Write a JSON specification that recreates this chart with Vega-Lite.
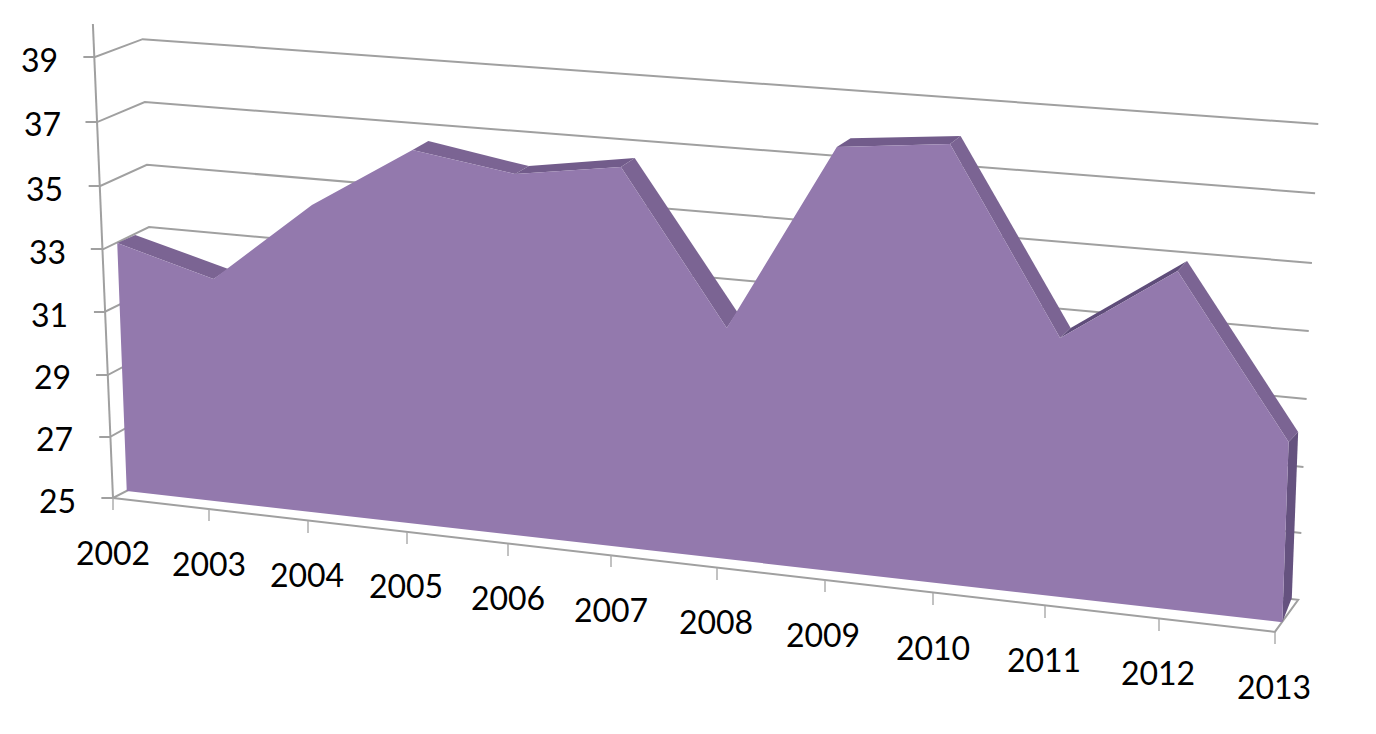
{
  "$schema": "https://vega.github.io/schema/vega-lite/v6.json",
  "width": 1376,
  "height": 734,
  "padding": 0,
  "autosize": {"type": "fit", "contains": "padding"},
  "background": "white",
  "config": {"view": {"stroke": null}},
  "datasets": {
    "walls": [
      {"line": "axis", "pt": 1, "pos": 2001.81, "level": 40.08},
      {"line": "axis", "pt": 2, "pos": 2002, "level": 25},
      {"line": "g39", "pt": 1, "pos": 2001.72, "level": 39.03},
      {"line": "g39", "pt": 2, "pos": 2001.83, "level": 39.03},
      {"line": "g39", "pt": 3, "pos": 2002.28, "level": 39.6},
      {"line": "g39", "pt": 4, "pos": 2013.39, "level": 36.9},
      {"line": "g37", "pt": 1, "pos": 2001.74, "level": 36.96},
      {"line": "g37", "pt": 2, "pos": 2001.85, "level": 36.96},
      {"line": "g37", "pt": 3, "pos": 2002.3, "level": 37.6},
      {"line": "g37", "pt": 4, "pos": 2013.36, "level": 34.7},
      {"line": "g35", "pt": 1, "pos": 2001.77, "level": 34.93},
      {"line": "g35", "pt": 2, "pos": 2001.88, "level": 34.93},
      {"line": "g35", "pt": 3, "pos": 2002.32, "level": 35.6},
      {"line": "g35", "pt": 4, "pos": 2013.33, "level": 32.48},
      {"line": "g33", "pt": 1, "pos": 2001.79, "level": 32.92},
      {"line": "g33", "pt": 2, "pos": 2001.91, "level": 32.92},
      {"line": "g33", "pt": 3, "pos": 2002.34, "level": 33.62},
      {"line": "g33", "pt": 4, "pos": 2013.3, "level": 30.31},
      {"line": "g31", "pt": 1, "pos": 2001.82, "level": 30.92},
      {"line": "g31", "pt": 2, "pos": 2001.92, "level": 30.92},
      {"line": "g31", "pt": 3, "pos": 2002.36, "level": 31.65},
      {"line": "g31", "pt": 4, "pos": 2013.28, "level": 28.15},
      {"line": "g29", "pt": 1, "pos": 2001.84, "level": 28.91},
      {"line": "g29", "pt": 2, "pos": 2001.95, "level": 28.91},
      {"line": "g29", "pt": 3, "pos": 2002.38, "level": 29.68},
      {"line": "g29", "pt": 4, "pos": 2013.25, "level": 25.99},
      {"line": "g27", "pt": 1, "pos": 2001.87, "level": 26.94},
      {"line": "g27", "pt": 2, "pos": 2001.97, "level": 26.94},
      {"line": "g27", "pt": 3, "pos": 2002.4, "level": 27.74},
      {"line": "g27", "pt": 4, "pos": 2013.23, "level": 23.89},
      {"line": "floor", "pt": 1, "pos": 2001.89, "level": 25},
      {"line": "floor", "pt": 2, "pos": 2002, "level": 25},
      {"line": "floor", "pt": 3, "pos": 2002.42, "level": 25.73},
      {"line": "floor", "pt": 4, "pos": 2013.2, "level": 21.76},
      {"line": "floor", "pt": 5, "pos": 2012.98, "level": 20.74},
      {"line": "floor", "pt": 6, "pos": 2002, "level": 25}
    ],
    "sides": [
      {"seg": "2002", "face": "band", "pt": 1, "pos": 2002.04, "level": 33.11},
      {"seg": "2002", "face": "band", "pt": 2, "pos": 2002.95, "level": 31.97},
      {"seg": "2002", "face": "band", "pt": 3, "pos": 2003.09, "level": 32.29},
      {"seg": "2002", "face": "band", "pt": 4, "pos": 2002.21, "level": 33.37},
      {"seg": "2005", "face": "band", "pt": 1, "pos": 2004.83, "level": 36.07},
      {"seg": "2005", "face": "band", "pt": 2, "pos": 2005.8, "level": 35.31},
      {"seg": "2005", "face": "band", "pt": 3, "pos": 2005.93, "level": 35.56},
      {"seg": "2005", "face": "band", "pt": 4, "pos": 2004.98, "level": 36.36},
      {"seg": "2006", "face": "top", "pt": 1, "pos": 2005.8, "level": 35.31},
      {"seg": "2006", "face": "top", "pt": 2, "pos": 2006.8, "level": 35.53},
      {"seg": "2006", "face": "top", "pt": 3, "pos": 2006.93, "level": 35.82},
      {"seg": "2006", "face": "top", "pt": 4, "pos": 2005.93, "level": 35.56},
      {"seg": "2007", "face": "band", "pt": 1, "pos": 2006.8, "level": 35.53},
      {"seg": "2007", "face": "band", "pt": 2, "pos": 2007.8, "level": 30.41},
      {"seg": "2007", "face": "band", "pt": 3, "pos": 2007.9, "level": 30.92},
      {"seg": "2007", "face": "band", "pt": 4, "pos": 2006.93, "level": 35.82},
      {"seg": "2009", "face": "top", "pt": 1, "pos": 2008.84, "level": 36.17},
      {"seg": "2009", "face": "top", "pt": 2, "pos": 2009.91, "level": 36.26},
      {"seg": "2009", "face": "top", "pt": 3, "pos": 2010.01, "level": 36.52},
      {"seg": "2009", "face": "top", "pt": 4, "pos": 2008.97, "level": 36.45},
      {"seg": "2010", "face": "band", "pt": 1, "pos": 2009.91, "level": 36.26},
      {"seg": "2010", "face": "band", "pt": 2, "pos": 2010.95, "level": 30.09},
      {"seg": "2010", "face": "band", "pt": 3, "pos": 2011.05, "level": 30.41},
      {"seg": "2010", "face": "band", "pt": 4, "pos": 2010.01, "level": 36.52},
      {"seg": "2011", "face": "sliver", "pt": 1, "pos": 2010.95, "level": 30.09},
      {"seg": "2011", "face": "sliver", "pt": 2, "pos": 2012.06, "level": 32.22},
      {"seg": "2011", "face": "sliver", "pt": 3, "pos": 2012.15, "level": 32.54},
      {"seg": "2011", "face": "sliver", "pt": 4, "pos": 2011.05, "level": 30.41},
      {"seg": "2012", "face": "band", "pt": 1, "pos": 2012.06, "level": 32.22},
      {"seg": "2012", "face": "band", "pt": 2, "pos": 2013.11, "level": 26.78},
      {"seg": "2012", "face": "band", "pt": 3, "pos": 2013.2, "level": 27.1},
      {"seg": "2012", "face": "band", "pt": 4, "pos": 2012.15, "level": 32.54},
      {"seg": "2013", "face": "end", "pt": 1, "pos": 2013.11, "level": 26.78},
      {"seg": "2013", "face": "end", "pt": 2, "pos": 2013.2, "level": 27.1},
      {"seg": "2013", "face": "end", "pt": 3, "pos": 2013.14, "level": 21.82},
      {"seg": "2013", "face": "end", "pt": 4, "pos": 2013.05, "level": 21.05}
    ],
    "front": [
      {"pt": 1, "pos": 2002.04, "level": 33.11},
      {"pt": 2, "pos": 2002.95, "level": 31.97},
      {"pt": 3, "pos": 2003.88, "level": 34.32},
      {"pt": 4, "pos": 2004.83, "level": 36.07},
      {"pt": 5, "pos": 2005.8, "level": 35.31},
      {"pt": 6, "pos": 2006.8, "level": 35.53},
      {"pt": 7, "pos": 2007.8, "level": 30.41},
      {"pt": 8, "pos": 2008.84, "level": 36.17},
      {"pt": 9, "pos": 2009.91, "level": 36.26},
      {"pt": 10, "pos": 2010.95, "level": 30.09},
      {"pt": 11, "pos": 2012.06, "level": 32.22},
      {"pt": 12, "pos": 2013.11, "level": 26.78},
      {"pt": 13, "pos": 2013.05, "level": 21.05},
      {"pt": 14, "pos": 2002.13, "level": 25.22}
    ],
    "years": [
      {"year": 2002}, {"year": 2003}, {"year": 2004}, {"year": 2005},
      {"year": 2006}, {"year": 2007}, {"year": 2008}, {"year": 2009},
      {"year": 2010}, {"year": 2011}, {"year": 2012}, {"year": 2013}
    ],
    "levels": [
      {"value": 25}, {"value": 27}, {"value": 29}, {"value": 31},
      {"value": 33}, {"value": 35}, {"value": 37}, {"value": 39}
    ]
  },
  "resolve": {"scale": {"x": "independent", "y": "independent"}},
  "layer": [
    {
      "data": {"name": "walls"},
      "mark": {"type": "line", "stroke": "#a0a0a0", "strokeWidth": 2},
      "encoding": {
        "x": {"field": "pos", "type": "quantitative", "axis": null, "scale": {"domain": [2002, 2013], "range": [113, 1277], "zero": false, "nice": false}},
        "y": {"field": "level", "type": "quantitative", "axis": null, "scale": {"domain": [25, 39], "range": [498, 58], "zero": false, "nice": false}},
        "detail": {"field": "line"},
        "order": {"field": "pt"}
      }
    },
    {
      "data": {"name": "years"},
      "mark": {"type": "tick", "orient": "vertical", "size": 12, "thickness": 2, "color": "#a8a8a8"},
      "encoding": {
        "x": {"field": "year", "type": "quantitative", "axis": null, "scale": {"domain": [2002, 2003, 2004, 2005, 2006, 2007, 2008, 2009, 2010, 2011, 2012, 2013], "range": [113, 209, 308, 407, 508, 611, 717, 825, 933, 1045, 1159, 1275], "zero": false, "nice": false}},
        "y": {"field": "year", "type": "quantitative", "axis": null, "scale": {"domain": [2002, 2003, 2004, 2005, 2006, 2007, 2008, 2009, 2010, 2011, 2012, 2013], "range": [504, 515, 527, 538, 550, 561, 574, 586, 599, 612, 625, 638], "zero": false, "nice": false}}
      }
    },
    {
      "data": {"name": "sides"},
      "mark": {"type": "line", "interpolate": "linear-closed", "strokeWidth": 0},
      "encoding": {
        "x": {"field": "pos", "type": "quantitative", "axis": null, "scale": {"domain": [2002, 2013], "range": [113, 1277], "zero": false, "nice": false}},
        "y": {"field": "level", "type": "quantitative", "axis": null, "scale": {"domain": [25, 39], "range": [498, 58], "zero": false, "nice": false}},
        "fill": {"field": "face", "type": "nominal", "legend": null, "scale": {"domain": ["band", "top", "sliver", "end"], "range": ["#7b6493", "#725c8b", "#5f4d7a", "#65527f"]}},
        "detail": {"field": "seg"},
        "order": {"field": "pt"}
      }
    },
    {
      "data": {"name": "front"},
      "mark": {"type": "line", "interpolate": "linear-closed", "fill": "#9379ad", "strokeWidth": 0},
      "encoding": {
        "x": {"field": "pos", "type": "quantitative", "axis": null, "scale": {"domain": [2002, 2013], "range": [113, 1277], "zero": false, "nice": false}},
        "y": {"field": "level", "type": "quantitative", "axis": null, "scale": {"domain": [25, 39], "range": [498, 58], "zero": false, "nice": false}},
        "order": {"field": "pt"}
      }
    },
    {
      "data": {"name": "years"},
      "mark": {"type": "text", "font": "Lato", "fontSize": 32, "color": "black", "align": "center", "baseline": "middle"},
      "encoding": {
        "x": {"field": "year", "type": "quantitative", "axis": null, "scale": {"domain": [2002, 2003, 2004, 2005, 2006, 2007, 2008, 2009, 2010, 2011, 2012, 2013], "range": [113, 209, 307, 406, 508, 611, 716, 823, 933, 1044, 1158, 1274], "zero": false, "nice": false}},
        "y": {"field": "year", "type": "quantitative", "axis": null, "scale": {"domain": [2002, 2003, 2004, 2005, 2006, 2007, 2008, 2009, 2010, 2011, 2012, 2013], "range": [555, 566, 577, 588, 600, 612, 624, 637, 650, 662, 675, 689], "zero": false, "nice": false}},
        "text": {"field": "year", "type": "nominal"}
      }
    },
    {
      "data": {"name": "levels"},
      "mark": {"type": "text", "font": "Lato", "fontSize": 32, "color": "black", "align": "right", "baseline": "middle"},
      "encoding": {
        "x": {"field": "value", "type": "quantitative", "axis": null, "scale": {"domain": [25, 27, 29, 31, 33, 35, 37, 39], "range": [76, 73, 71, 68, 66, 63, 61, 58], "zero": false, "nice": false}},
        "y": {"field": "value", "type": "quantitative", "axis": null, "scale": {"domain": [25, 27, 29, 31, 33, 35, 37, 39], "range": [503, 441, 379, 317, 254, 191, 126, 62], "zero": false, "nice": false}},
        "text": {"field": "value", "type": "nominal"}
      }
    }
  ]
}
